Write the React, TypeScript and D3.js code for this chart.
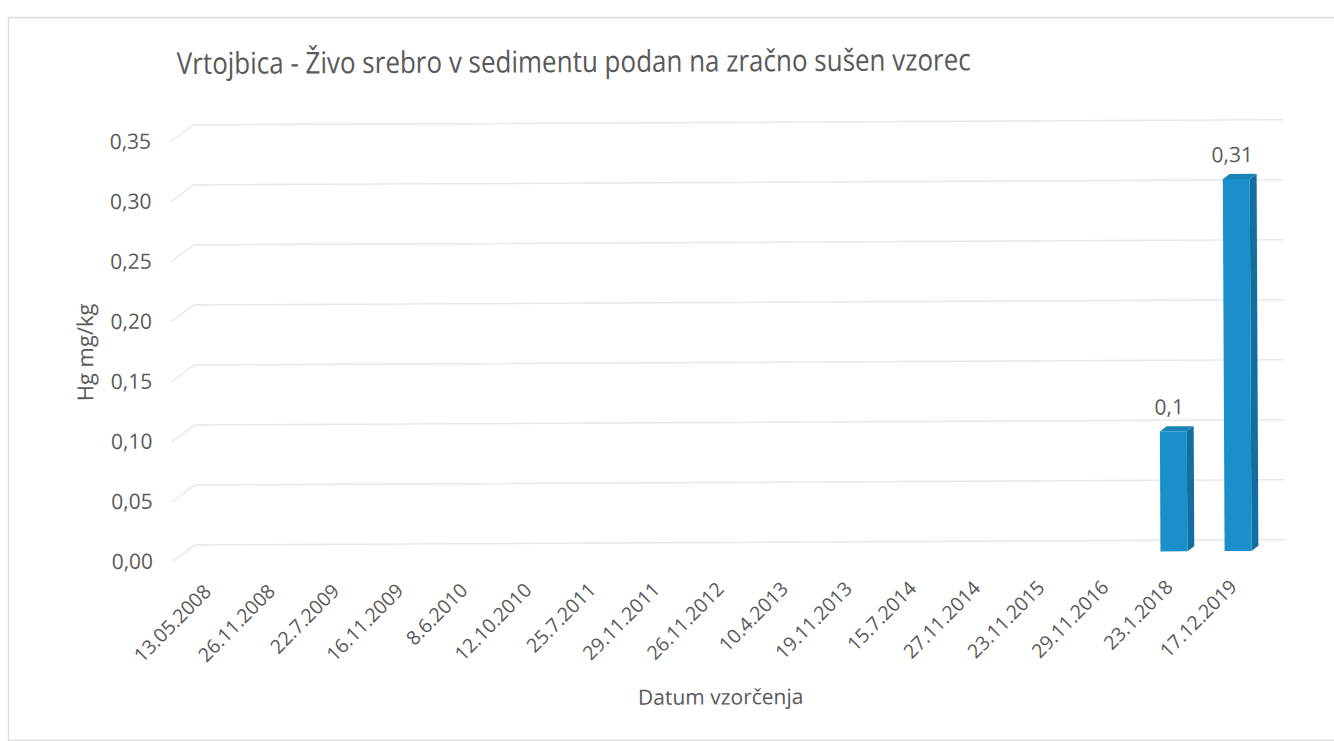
import React from "react";
import * as d3 from "d3";

const categories: string[] = [
  "13.05.2008", "26.11.2008", "22.7.2009", "16.11.2009", "8.6.2010", "12.10.2010",
  "25.7.2011", "29.11.2011", "26.11.2012", "10.4.2013", "19.11.2013", "15.7.2014",
  "27.11.2014", "23.11.2015", "29.11.2016", "23.1.2018", "17.12.2019",
];
const values: (number | null)[] = [
  null, null, null, null, null, null, null, null, null, null, null, null, null, null, null, 0.1, 0.31,
];
const yTicks: number[] = [0, 0.05, 0.1, 0.15, 0.2, 0.25, 0.3, 0.35];

const title = "Vrtojbica - Živo srebro v sedimentu podan na zračno sušen vzorec";
const yTitle = "Hg mg/kg";
const xTitle = "Datum vzorčenja";

const W = 1334;
const H = 741;
const FONT = "'Open Sans', 'Noto Sans', sans-serif";
const TEXT = "#595959";

export default function App() {
  const x = d3.scaleBand<string>().domain(categories).range([195, 1285]).padding(0);
  const y = d3.scaleLinear().domain([0, 0.35]).range([545, 125]);
  const bw = x.bandwidth();
  const DX = -23;
  const DY = 17;
  const barW = bw * 0.42;
  const depthFrac = 0.3;
  const frontFrac = 0.65;
  const fmtTick = (v: number) => d3.format(".2f")(v).replace(".", ",");
  const fmtVal = (v: number) => String(v).replace(".", ",");

  return (
    <svg width={W} height={H} style={{ position: "absolute", left: 0, top: 0, background: "#fff" }}>
      <rect x={8.5} y={17.5} width={1340} height={723} fill="#fff" stroke="#dcdcdc" strokeWidth={1.5} />
      <g transform="rotate(-0.27 175 545)">
        <text
          x={576}
          y={74}
          textAnchor="middle"
          fontFamily={FONT}
          fontSize={30}
          fill={TEXT}
          textLength={794}
          lengthAdjust="spacingAndGlyphs"
        >
          {title}
        </text>

        {yTicks.map((t) => (
          <path
            key={t}
            d={`M${195 + DX},${y(t) + DY}L195,${y(t)}L1285,${y(t)}`}
            fill="none"
            stroke="#e8e8e8"
            strokeWidth={1.5}
          />
        ))}

        {yTicks.map((t) => (
          <text
            key={"l" + t}
            x={153}
            y={y(t) + DY + 1}
            textAnchor="end"
            dominantBaseline="middle"
            fontFamily={FONT}
            fontSize={21}
            fill={TEXT}
          >
            {fmtTick(t)}
          </text>
        ))}

        <text
          transform={`translate(94,352) rotate(-90)`}
          textAnchor="middle"
          fontFamily={FONT}
          fontSize={22}
          fill={TEXT}
        >
          {yTitle}
        </text>

        {categories.map((c, i) => {
          const v = values[i];
          if (v == null) return null;
          const cx = (x(c) as number) + bw / 2 + DX * frontFrac;
          const y0 = y(0) + DY * frontFrac;
          const yt = y(v) + DY * frontFrac;
          const ddx = -DX * depthFrac;
          const ddy = -DY * depthFrac;
          const l = cx - barW / 2;
          const r = cx + barW / 2;
          return (
            <g key={c}>
              <path
                d={`M${r},${yt}L${r + ddx},${yt + ddy}L${r + ddx},${y0 + ddy}L${r},${y0}Z`}
                fill="#136f9f"
              />
              <path
                d={`M${l},${yt}L${l + ddx},${yt + ddy}L${r + ddx},${yt + ddy}L${r},${yt}Z`}
                fill="#1a82b8"
              />
              <rect x={l} y={yt} width={barW} height={y0 - yt} fill="#1b8fcb" />
              <text
                x={cx - 4}
                y={yt - 17}
                textAnchor="middle"
                fontFamily={FONT}
                fontSize={21}
                fill={TEXT}
              >
                {fmtVal(v)}
              </text>
            </g>
          );
        })}

        {categories.map((c) => {
          const ax = (x(c) as number) + bw / 2 - 15;
          const ay = 593;
          return (
            <text
              key={"x" + c}
              transform={`translate(${ax},${ay}) rotate(-45)`}
              textAnchor="end"
              fontFamily={FONT}
              fontSize={19.5}
              fill={TEXT}
            >
              {c}
            </text>
          );
        })}

        <text x={720} y={707} textAnchor="middle" fontFamily={FONT} fontSize={21} fill={TEXT}>
          {xTitle}
        </text>
      </g>
    </svg>
  );
}
